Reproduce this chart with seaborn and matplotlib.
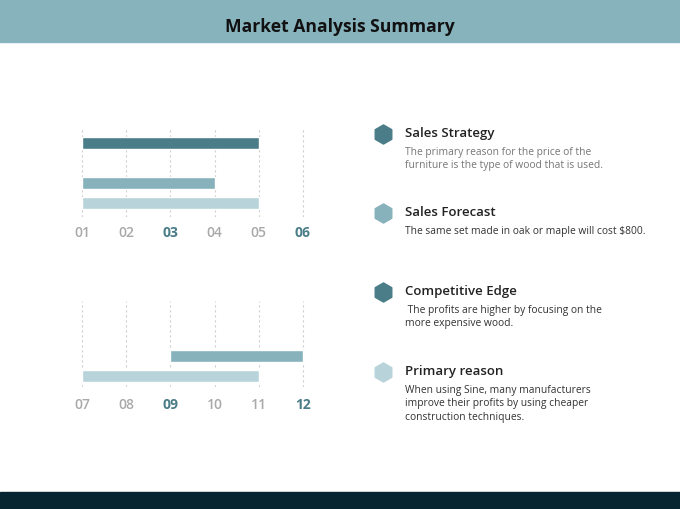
import numpy as np
import pandas as pd
import matplotlib
matplotlib.use("Agg")
import matplotlib.pyplot as plt
import seaborn as sns

# --- Data ---
top_ticks = ["01", "02", "03", "04", "05", "06"]
top_rows = ["Sales Strategy", "", "Sales Forecast", "Competitive Edge"]
top_start = [1, np.nan, 1, 1]
top_end = [5, np.nan, 4, 5]

bottom_ticks = ["07", "08", "09", "10", "11", "12"]
bottom_rows = ["", "", "Competitive Edge", "Primary reason"]
bottom_start = [np.nan, np.nan, 3, 1]
bottom_end = [np.nan, np.nan, 6, 5]

highlight_ticks = ["03", "06", "09", "12"]

items = ["Sales Strategy", "Sales Forecast", "Competitive Edge", "Primary reason"]
item_text = [
    "The primary reason for the price of the\nfurniture is the type of wood that is used.",
    "The same set made in oak or maple will cost $800.",
    " The profits are higher by focusing on the\nmore expensive wood.",
    "When using Sine, many manufacturers\nimprove their profits by using cheaper\nconstruction techniques.",
]

# colours
DARK = "#4a7d88"
MID = "#87b2bc"
LIGHT = "#b8d4da"
GRAY = "#a9a9a9"
top_colors = [DARK, "white", MID, LIGHT]
bottom_colors = ["white", "white", MID, LIGHT]
item_colors = [DARK, MID, DARK, LIGHT]
desc_colors = ["#767676", "#333333", "#333333", "#333333"]

sns.set_theme(style="white")
plt.rcParams["font.family"] = ["Open Sans", "DejaVu Sans"]

W, H = 680, 510
fig = plt.figure(figsize=(W / 100, H / 100), dpi=100)


def px_axes(left, top, right, bottom):
    return fig.add_axes([left / W, 1 - bottom / H, (right - left) / W, (bottom - top) / H])


# background bands
bg = px_axes(0, 0, W, H)
bg.set_xlim(0, W)
bg.set_ylim(H, 0)
bg.axis("off")
bg.axhspan(0, 43, color="#87b3bd", zorder=0)
bg.axhspan(493, H, color="#062530", zorder=0)
bg.text(340, 27, "Market Analysis Summary", ha="center", va="center",
        fontsize=12.6, fontweight="bold", color="#111111")


def floating_bars(ax, rows, start, end, colors, ticks, pad, ylim):
    df = pd.DataFrame({"row": rows, "start": start, "end": end})
    df["width"] = df["end"] - df["start"]
    ax.barh(np.arange(len(df)), df["width"], left=df["start"], height=0.6,
            color=colors, zorder=3)
    ax.set_xlim(0.9, 6.1)
    ax.set_ylim(*ylim)
    ax.set_yticks([])
    ax.set_xticks(range(1, len(ticks) + 1))
    ax.set_xticklabels(ticks, fontsize=10)
    ax.tick_params(axis="x", length=0, pad=pad)
    for lab in ax.get_xticklabels():
        if lab.get_text() in highlight_ticks:
            lab.set_color(DARK)
            lab.set_fontweight("bold")
        else:
            lab.set_color(GRAY)
            lab.set_fontweight("semibold")
    ax.xaxis.grid(True, linestyle=(0, (2, 2.5)), color="#cfcfcf", linewidth=0.8, zorder=0)
    sns.despine(ax=ax, left=True, bottom=True)
    ax.set_facecolor("none")


ax1 = px_axes(77.6, 128, 307.4, 218)
floating_bars(ax1, top_rows, top_start, top_end, top_colors, top_ticks, 5.5, (3.725, -0.775))

ax2 = px_axes(77.6, 302, 307.4, 388)
floating_bars(ax2, bottom_rows, bottom_start, bottom_end, bottom_colors, bottom_ticks, 7.5, (3.575, -0.725))

# right-hand list
title_y = [134, 213, 292, 372]
for name, desc, c, dc, y in zip(items, item_text, item_colors, desc_colors, title_y):
    bg.scatter(383, y + 1, marker="h", s=190, color=c, zorder=3)
    bg.text(405, y, name, ha="left", va="center", fontsize=9.5,
            fontweight="semibold", color="#222222")
    bg.text(405, y + 13, desc, ha="left", va="top", fontsize=7.4,
            color=dc, linespacing=1.3)

fig.savefig("out.png", dpi=100)
